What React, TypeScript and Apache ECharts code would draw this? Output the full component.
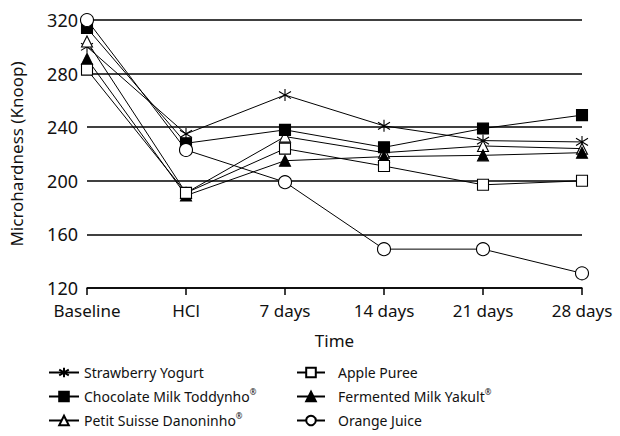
import React, { useEffect, useRef } from "react";
import * as echarts from "echarts";

const categories = ["Baseline", "HCl", "7 days", "14 days", "21 days", "28 days"];
const yTicks = [120, 160, 200, 240, 280, 320];

const strawberry = [300, 235, 264, 241, 230, 229];
const chocolate = [314, 228, 238, 225, 239, 249];
const petitSuisse = [304, 191, 233, 221, 226, 224];
const applePuree = [283, 191, 224, 211, 197, 200];
const fermented = [291, 189, 215, 218, 219, 221];
const orangeJuice = [320, 223, 199, 149, 149, 131];

const names = [
  "Strawberry Yogurt",
  "Chocolate Milk Toddynho®",
  "Petit Suisse Danoninho®",
  "Apple Puree",
  "Fermented Milk Yakult®",
  "Orange Juice",
];

const FONT = "'Noto Sans', sans-serif";
const STAR = "path://M5,0L5,10M0.9,2L9.1,8M0.9,8L9.1,2";

export default function App() {
  const ref = useRef<HTMLDivElement>(null);
  useEffect(() => {
    if (!ref.current) return;
    const chart = echarts.init(ref.current, null, { renderer: "svg" });
    const mk = (name: string, data: number[], symbol: string, size: number, fill: string, z: number) => ({
      name,
      type: "line",
      data,
      symbol,
      symbolSize: size,
      showAllSymbol: true,
      z,
      lineStyle: { color: "#000", width: 1 },
      itemStyle: { color: fill, borderColor: "#000", borderWidth: 1.1 },
      emphasis: { disabled: true },
    });
    const legendText = {
      fontFamily: FONT,
      fontSize: 14,
      lineHeight: 19,
      color: "#111",
      rich: { r: { fontFamily: FONT, fontSize: 8, lineHeight: 19, verticalAlign: "top", color: "#111" } },
    };
    const fmt = (n: string) => n.replace("®", "{r|®}");
    chart.setOption({
      animation: false,
      grid: { left: 86, right: 38, top: 20, bottom: 148, containLabel: false },
      xAxis: {
        type: "category",
        data: categories,
        boundaryGap: false,
        name: "Time",
        nameLocation: "middle",
        nameGap: 44,
        nameTextStyle: { fontFamily: FONT, fontSize: 17, color: "#111" },
        axisLine: { lineStyle: { color: "#000", width: 1.5 } },
        axisTick: { show: true, length: 7, lineStyle: { color: "#000", width: 1.5 } },
        axisLabel: { fontFamily: FONT, fontSize: 17, color: "#111", margin: 14, interval: 0, hideOverlap: false },
      },
      yAxis: {
        type: "value",
        min: yTicks[0],
        max: yTicks[yTicks.length - 1],
        interval: 40,
        name: "Microhardness (Knoop)",
        nameLocation: "middle",
        nameGap: 62,
        nameTextStyle: { fontFamily: FONT, fontSize: 17, color: "#111" },
        axisLine: { show: false },
        axisTick: { show: false },
        axisLabel: { fontFamily: FONT, fontSize: 18, color: "#111", margin: 9 },
        splitLine: { lineStyle: { color: "#000", width: 1.5 } },
      },
      legend: [
        {
          orient: "vertical",
          left: 48,
          top: 363,
          padding: 0,
          itemWidth: 30,
          itemHeight: 12,
          itemGap: 5,
          data: names.slice(0, 3),
          formatter: fmt,
          textStyle: legendText,
          selectedMode: false,
        },
        {
          orient: "vertical",
          left: 296,
          top: 363,
          padding: 0,
          itemWidth: 28,
          itemHeight: 12,
          itemGap: 5,
          data: names.slice(3),
          formatter: fmt,
          textStyle: { ...legendText, padding: [0, 0, 0, 8] },
          selectedMode: false,
        },
      ],
      series: [
        mk(names[0], strawberry, STAR, 12, "none", 3),
        mk(names[1], chocolate, "rect", 11, "#000", 4),
        mk(names[2], petitSuisse, "triangle", 11, "#fff", 3),
        mk(names[3], applePuree, "rect", 11, "#fff", 5),
        mk(names[4], fermented, "triangle", 11, "#000", 3),
        mk(names[5], orangeJuice, "circle", 13, "#fff", 6),
      ],
    });
    return () => chart.dispose();
  }, []);
  return <div ref={ref} style={{ position: "absolute", left: 0, top: 0, width: 620, height: 436 }} />;
}
